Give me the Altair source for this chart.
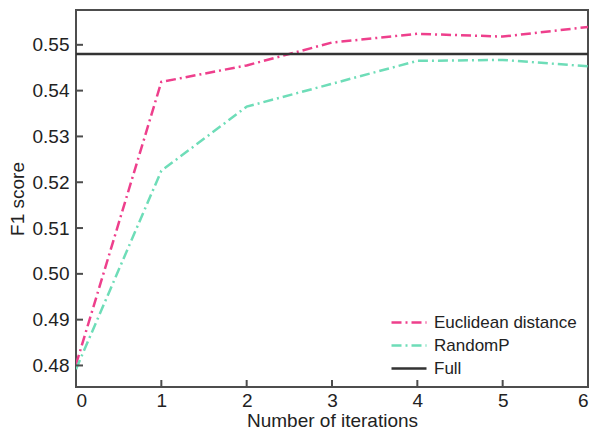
import altair as alt
import pandas as pd

iterations = [0, 1, 2, 3, 4, 5, 6]
euclidean = [0.4802, 0.5419, 0.5455, 0.5505, 0.5524, 0.5518, 0.5539]
randomp = [0.4792, 0.5225, 0.5365, 0.5415, 0.5465, 0.5467, 0.5453]
full_value = 0.548
series_names = ["Euclidean distance", "RandomP", "Full"]
y_ticks = [0.48, 0.49, 0.50, 0.51, 0.52, 0.53, 0.54, 0.55]
x_ticks = [0, 1, 2, 3, 4, 5, 6]

rows = []
for i, v in zip(iterations, euclidean):
    rows.append({"iter": i, "f1": v, "series": series_names[0]})
for i, v in zip(iterations, randomp):
    rows.append({"iter": i, "f1": v, "series": series_names[1]})
for i in [iterations[0], iterations[-1]]:
    rows.append({"iter": i, "f1": full_value, "series": series_names[2]})
df = pd.DataFrame(rows)

FONT = "Liberation Sans"
dash = [10, 4, 2, 4]

xscale = alt.Scale(domain=[0, 6], nice=False, zero=False)
yscale = alt.Scale(domain=[0.4753, 0.5576], nice=False, zero=False)

leg = dict(title=None, orient="none", legendX=314, legendY=301,
           symbolType="stroke", symbolSize=1225, symbolStrokeWidth=2.5,
           labelFont=FONT, labelFontSize=17, labelColor="#222",
           rowPadding=0, clipHeight=23, padding=0, labelOffset=6)

lines = alt.Chart(df).mark_line(strokeWidth=2.5, clip=True).encode(
    x=alt.X("iter:Q", scale=xscale,
            axis=alt.Axis(values=x_ticks, title="Number of iterations", format="d",
                          labelPadding=4, titlePadding=1)),
    y=alt.Y("f1:Q", scale=yscale,
            axis=alt.Axis(values=y_ticks, title="F1 score", format=".2f",
                          labelPadding=7, titlePadding=5)),
    color=alt.Color("series:N", sort=series_names,
                    scale=alt.Scale(domain=series_names, range=["#EE3F8C", "#6EDDB8", "#333333"]),
                    legend=alt.Legend(**leg)),
    strokeDash=alt.StrokeDash("series:N", sort=series_names,
                              scale=alt.Scale(domain=series_names, range=[dash, dash, [1, 0]]),
                              legend=alt.Legend(**leg)),
)

ydf = pd.DataFrame({"v": y_ticks})
yt = alt.Chart(ydf).mark_rule(color="#4d4d4d", strokeWidth=2).encode(
    y=alt.Y("v:Q", scale=yscale), x=alt.value(0), x2=alt.value(7))

xdf = pd.DataFrame({"v": x_ticks})
xt = alt.Chart(xdf).transform_calculate(lo="0.4753", hi="0.4753 + 7 * 0.0823 / height").mark_rule(
    color="#4d4d4d", strokeWidth=2).encode(
    x=alt.X("v:Q", scale=xscale),
    y=alt.Y("lo:Q", scale=yscale), y2="hi:Q")

chart = alt.layer(lines, yt, xt).properties(
    width=581, height=422,
    autosize=alt.AutoSizeParams(type="fit", contains="padding"),
    padding={"left": 0, "top": 2, "right": 0, "bottom": 0}
).configure_view(stroke="#4d4d4d", strokeWidth=2).configure_axis(
    labelFont=FONT, labelFontSize=19, labelColor="#222", titleFont=FONT,
    titleFontSize=19, titleFontWeight="normal", titleColor="#222",
    domain=False, ticks=False, grid=False
)

chart.save("out.html", embed_options={"renderer": "svg", "actions": False})
